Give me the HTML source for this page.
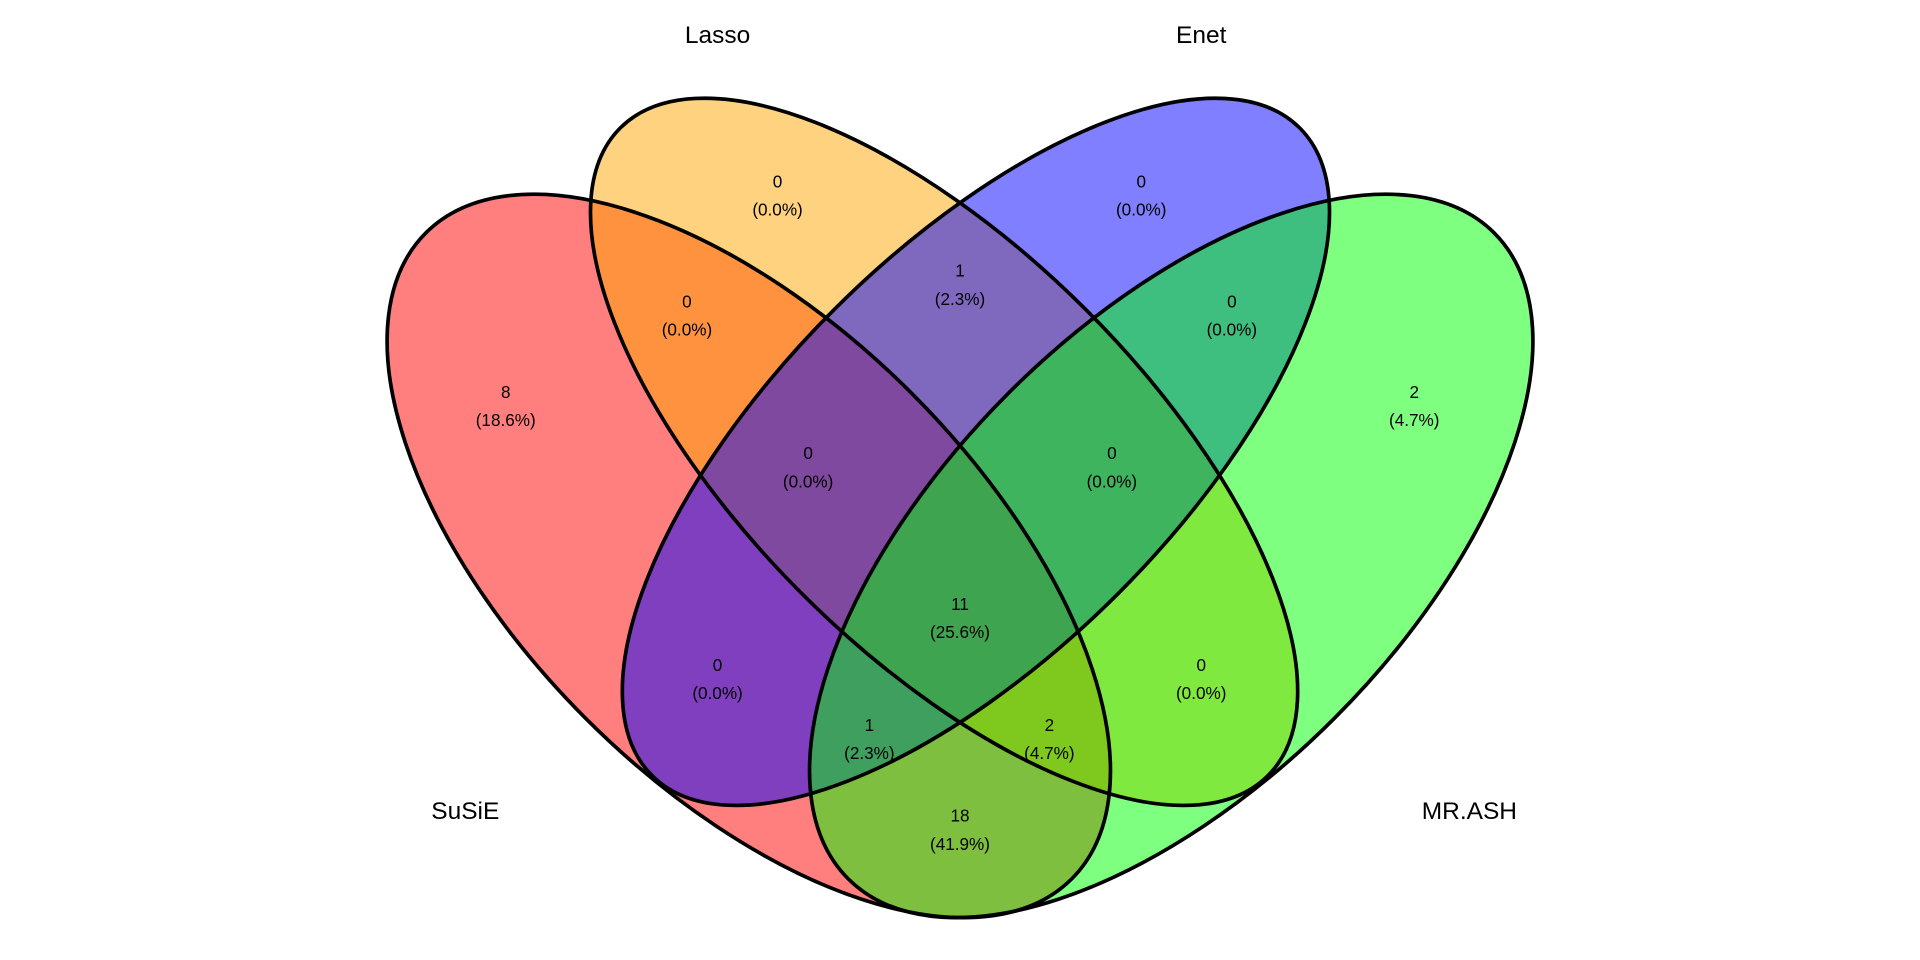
<!DOCTYPE html>
<html>
<head>
<meta charset="utf-8">
<style>
html,body{margin:0;padding:0;background:#fff;overflow:hidden;}
svg{display:block;}
text{font-family:"Liberation Sans",sans-serif;fill:#000;}
</style>
</head>
<body>
<svg id="venn" width="1920" height="960" viewBox="0 0 1568 784" xmlns="http://www.w3.org/2000/svg">
<g id="fills"></g>
<g id="strokes"></g>
<g id="labels"></g>
<g id="setnames"></g>
</svg>
<script>
const setNames = ["SuSiE", "Lasso", "Enet", "MR.ASH"];
const setColors = ["#FF0000", "#FFA500", "#0000FF", "#00FF00"];
const regionNames = ["Lasso", "Enet", "SuSiE", "MR.ASH", "SuSiE-Lasso", "Lasso-Enet", "Enet-MR.ASH", "SuSiE-Lasso-Enet", "Lasso-Enet-MR.ASH", "All", "SuSiE-Enet", "Lasso-MR.ASH", "SuSiE-Enet-MR.ASH", "SuSiE-Lasso-MR.ASH", "SuSiE-MR.ASH"];
const regionCounts = [0, 0, 8, 2, 0, 1, 0, 0, 0, 11, 0, 0, 1, 2, 18];

// geometry (layout, not data)
const ellipses = [
  {cx:611.5, cy:454, rx:373, ry:188, rot:45},
  {cx:771, cy:369, rx:374, ry:164, rot:45},
  {cx:797, cy:369, rx:374, ry:164, rot:-45},
  {cx:956.5, cy:454, rx:373, ry:188, rot:-45}
];
const labelPos = [[635,148],[932,148],[413,320],[1155,320],[561,246],[784,221],[1006,246],[660,370],[908,370],[784,493],[586,543],[981,543],[710,592],[857,592],[784,666]];
const namePos = [[380,669],[586,35],[981,35],[1200,669]];

const NS = "http://www.w3.org/2000/svg";
const fills = document.getElementById('fills');
const strokes = document.getElementById('strokes');
ellipses.forEach((e,i)=>{
  const f = document.createElementNS(NS,'ellipse');
  f.setAttribute('cx',e.cx);f.setAttribute('cy',e.cy);f.setAttribute('rx',e.rx);f.setAttribute('ry',e.ry);
  f.setAttribute('transform',`rotate(${e.rot} ${e.cx} ${e.cy})`);
  f.setAttribute('fill',setColors[i]);f.setAttribute('fill-opacity','0.5');
  
  
  fills.appendChild(f);
  const s = document.createElementNS(NS,'ellipse');
  s.setAttribute('cx',e.cx);s.setAttribute('cy',e.cy);s.setAttribute('rx',e.rx);s.setAttribute('ry',e.ry);
  s.setAttribute('transform',`rotate(${e.rot} ${e.cx} ${e.cy})`);
  s.setAttribute('fill','none');s.setAttribute('stroke','#000');s.setAttribute('stroke-width','3');
  
  
  strokes.appendChild(s);
});
const total = regionCounts.reduce((a,b)=>a+b,0);
const labels = document.getElementById('labels');
regionCounts.forEach((c,i)=>{
  const [x,y] = labelPos[i];
  const t = document.createElementNS(NS,'text');
  t.setAttribute('x',x);t.setAttribute('y',y+5);t.setAttribute('text-anchor','middle');t.setAttribute('font-size','14');
  
  
  const a = document.createElementNS(NS,'tspan');a.setAttribute('x',x);a.textContent=String(c);
  const b = document.createElementNS(NS,'tspan');b.setAttribute('x',x);b.setAttribute('dy','23');
  b.textContent='('+(total?(c/total*100):0).toFixed(1)+'%)';
  t.appendChild(a);t.appendChild(b);labels.appendChild(t);
});
const sn = document.getElementById('setnames');
setNames.forEach((n,i)=>{
  const t = document.createElementNS(NS,'text');
  t.setAttribute('x',namePos[i][0]);t.setAttribute('y',namePos[i][1]);t.setAttribute('text-anchor','middle');t.setAttribute('font-size','20');
  
  
  t.textContent=n;sn.appendChild(t);
});
</script>
</body>
</html>
